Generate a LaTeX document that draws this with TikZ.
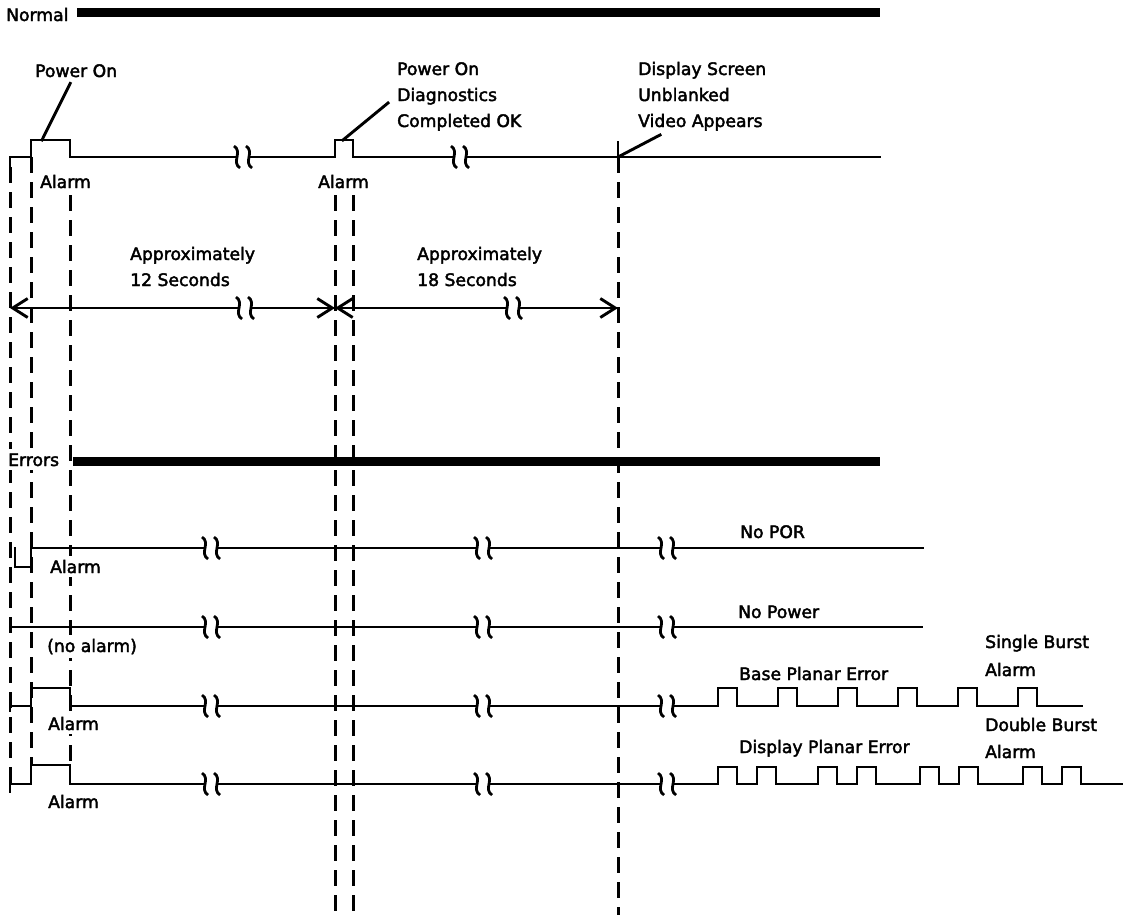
\documentclass[tikz,border=0pt]{standalone}
\usepackage{fontspec}
\setmainfont{DejaVu Sans}[BoldFont={DejaVu Sans}, BoldFeatures={FakeBold=2.4}]
\usetikzlibrary{arrows.meta}

\begin{document}
\begin{tikzpicture}[
  x=1pt, y=-1pt,
  wave/.style={line width=2.9pt, line cap=rect},
  bar/.style={line width=9pt},
  vdash/.style={line width=3pt, dash pattern=on 16pt off 9pt},
  lbl/.style={inner sep=0pt, anchor=base west, font=\fontsize{17.2}{26}\selectfont\bfseries},
  mask/.style={lbl, fill=white, inner ysep=4pt},
  dim/.style={line width=2.9pt, {Straight Barb[length=15pt,width=19pt]}-{Straight Barb[length=15pt,width=19pt]}},
  brk/.pic={
    \fill[white] (-6,-3) rectangle (6,3);
    \foreach \d in {-6,6}
      \draw[line width=2.8pt] (\d-3,-11) .. controls (\d+6,-5) and (\d-6,5) .. (\d+3,11);
  }
]
\useasboundingbox (0,0) rectangle (1127,918);

% time marks
\foreach \x/\a/\b in {10/167/784, 31/157/765, 70/195/765, 335/195/915, 353/195/915, 618/157/915}
  \draw[vdash] (\x,\a) -- (\x,\b);

% normal sequence
\node[lbl] (nrm) at (6,21) {Normal};
\draw[bar] (77,12.5) -- (880,12.5);
\draw[wave] (10,167) -- (10,157) -- (31,157) -- (31,140) -- (70,140) -- (70,157)
  -- (335,157) -- (335,140) -- (353,140) -- (353,157) -- (880,157);
\draw[wave] (618,142) -- (618,157);
\foreach \n/\x/\y/\t in {
 pwr/35/77/{Power On},
 diag1/397/75/{Power On}, diag2/397/101/{Diagnostics}, diag3/397/127/{Completed OK},
 scr1/638/75/{Display Screen}, scr2/638/101/{Unblanked}, scr3/638/127/{Video Appears},
 alm1/40/188/{Alarm}, alm2/318/188/{Alarm},
 apx1/130/260/{Approximately}, sec1/130/286/{12 Seconds},
 apx2/417/260/{Approximately}, sec2/417/286/{18 Seconds}}
  \node[lbl] (\n) at (\x,\y) {\t};
\coordinate (pk1) at (42,140);
\coordinate (pk2) at (343,140);
\coordinate (pk3) at (618,157);
\draw[wave] ([shift={(-6,6)}]pwr.south) -- (pk1);
\draw[wave] ([shift={(-9,2)}]diag2.base west) -- (pk2);
\draw[wave] ([shift={(22,8)}]scr3.base west) -- (pk3);

% intervals
\coordinate (t0) at (10,308);
\coordinate (t1) at (335,308);
\coordinate (t2) at (618,308);
\draw[dim] (t0) -- (t1);
\draw[dim] (t1) -- (t2);

% error sequences
\draw[bar] (73,461) -- (880,461);
\draw[wave] (15,548) -- (15,567) -- (31,567) -- (31,548) -- (923,548);
\draw[wave] (10,627) -- (922,627);
\draw[wave] (10,701) -- (10,711);
\draw[wave] (10,706) -- (31,706) -- (31,688) -- (70,688) -- (70,706)
  foreach \p in {718,778,...,1018} { -- (\p,706) -- (\p,688) -- (\p+19,688) -- (\p+19,706) }
  -- (1082,706);
\draw[wave] (10,778) -- (10,792);
\draw[wave] (10,784) -- (31,784) -- (31,765) -- (70,765) -- (70,784)
  foreach \b in {718,818,920,1023} { -- (\b,784) -- (\b,767) -- (\b+19,767) -- (\b+19,784)
    -- (\b+39,784) -- (\b+39,767) -- (\b+58,767) -- (\b+58,784) }
  -- (1122,784);
\foreach \n/\x/\y/\t in {
 err/8/466/{Errors}, alm3/50/573/{Alarm}, noalm/47/652/{(no alarm)},
 alm4/48/730/{Alarm}, alm5/48/808/{Alarm}}
  \node[mask] (\n) at (\x,\y) {\t};
\foreach \n/\x/\y/\t in {
 nopor/740/538/{No POR}, nopwr/738/618/{No Power},
 base/739/680/{Base Planar Error}, sgl1/985/648/{Single Burst}, sgl2/985/676/{Alarm},
 disp/739/753/{Display Planar Error}, dbl1/985/731/{Double Burst}, dbl2/985/758/{Alarm}}
  \node[lbl] (\n) at (\x,\y) {\t};

% breaks
\foreach \x/\y in {243/157, 460/157, 245/308, 513/308}
  \pic at (\x,\y) {brk};
\foreach \y in {548,627,706,784}
  \foreach \x in {211,483,667}
    \pic at (\x,\y) {brk};
\end{tikzpicture}
\end{document}
